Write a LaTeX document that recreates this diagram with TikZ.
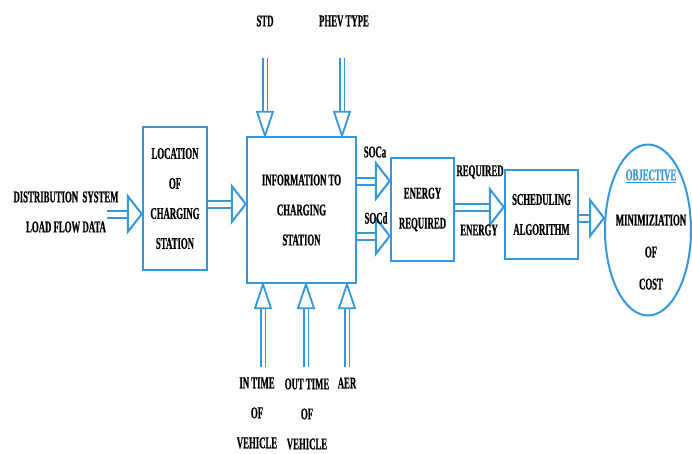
\documentclass[tikz,border=0pt]{standalone}
\usepackage{fontspec}
\newfontfamily\blockfont{Liberation Serif}[FakeStretch=0.53,BoldFeatures={FakeBold=0.6}]
\usetikzlibrary{arrows.meta,shapes,decorations.markings}
\definecolor{lineblue}{RGB}{52,152,219}

\begin{document}
\begin{tikzpicture}[x=1pt,y=-1pt,
	font=\blockfont\bfseries\fontsize{16.5}{30}\selectfont,
	box/.style={draw=lineblue,line width=2.5pt,inner sep=0pt},
	harrow/.style={draw=lineblue,double=white,double distance=5pt,line width=2pt,shorten >=13pt,
		postaction={decorate,decoration={markings,mark=at position 1 with
			{\draw[lineblue,fill=white,line width=2pt] (-14pt,-18pt) -- (0,0) -- (-14pt,18pt) -- cycle;}}}},
	varrow/.style={draw=lineblue,double=white,double distance=3pt,line width=1.8pt,shorten >=22pt,
		postaction={decorate,decoration={markings,mark=at position 1 with
			{\draw[lineblue,fill=white,line width=1.8pt] (-24pt,-8pt) -- (0,0) -- (-24pt,8pt) -- cycle;}}}}]
	\useasboundingbox (0,0) rectangle (692,453);

	% blocks
	\node[box,minimum width=64pt,minimum height=143pt] (loc) at (175,198.5) {};
	\node[box,minimum width=109pt,minimum height=146pt] (info) at (301.5,210) {};
	\node[box,minimum width=63pt,minimum height=103pt] (energy) at (422.5,209.5) {};
	\node[box,minimum width=73pt,minimum height=89pt] (sched) at (541.5,214.5) {};
	\node[draw=lineblue,line width=2pt,ellipse,minimum width=86pt,minimum height=171pt] (obj) at (648,230) {};

	\node[align=center] (loctxt) at (loc.center) {LOCATION\\OF\\CHARGING\\STATION};
	\node[align=center] (infotxt) at (info.center) {INFORMATION TO\\CHARGING\\STATION};
	\node[align=center] (energytxt) at (energy.center) {ENERGY\\REQUIRED};
	\node[align=center] (schedtxt) at (sched.center) {SCHEDULING\\ALGORITHM};
	\node[text=lineblue] (objhead) at (651,176) {\underline{OBJECTIVE}};
	\node[align=center,anchor=north,font=\blockfont\bfseries\fontsize{16.5}{32}\selectfont] (objtxt) at (651,211) {MINIMIZIATION\\OF\\COST};

	% inputs and links
	\node[align=center] (dist) at (66,212) {DISTRIBUTION\ \ SYSTEM\\LOAD FLOW DATA};
	\coordinate (distend) at (107,214);
	\draw[harrow] (distend) -- (loc.west |- 0,214);
	\draw[harrow] (loc.east |- 0,204) -- (info.west |- 0,204);
	\draw[harrow] (info.east |- 0,181) -- (energy.west |- 0,181);
	\draw[harrow] (info.east |- 0,236) -- (energy.west |- 0,236);
	\draw[harrow] (energy.east |- 0,207) -- (sched.west |- 0,207);
	\draw[harrow] (sched.east |- 0,218) -- (obj.west |- 0,218);

	\node (soca) at (375,152) {SOCa};
	\node (socd) at (376,218) {SOCd};
	\node (req) at (480,172) {REQUIRED};
	\node (ener) at (479,230) {ENERGY};

	\node (std) at (265,21) {STD};
	\node (phev) at (344,21) {PHEV TYPE};
	\coordinate (stdend) at (265,58);
	\coordinate (phevend) at (342,58);
	\draw[varrow] (stdend) -- (info.north -| stdend);
	\draw[varrow] (phevend) -- (info.north -| phevend);

	\foreach \x/\lx/\ly/\txt [count=\n] in
		{263/257/413/IN TIME\\OF\\VEHICLE,306/307/414/OUT TIME\\OF\\VEHICLE,347/347/383/AER}
		{
		\coordinate (in\n) at (\x,367);
		\draw[varrow] (in\n) -- (info.south -| in\n);
		\node[align=center] (inlab\n) at (\lx,\ly) {\txt};
		}
\end{tikzpicture}
\end{document}
